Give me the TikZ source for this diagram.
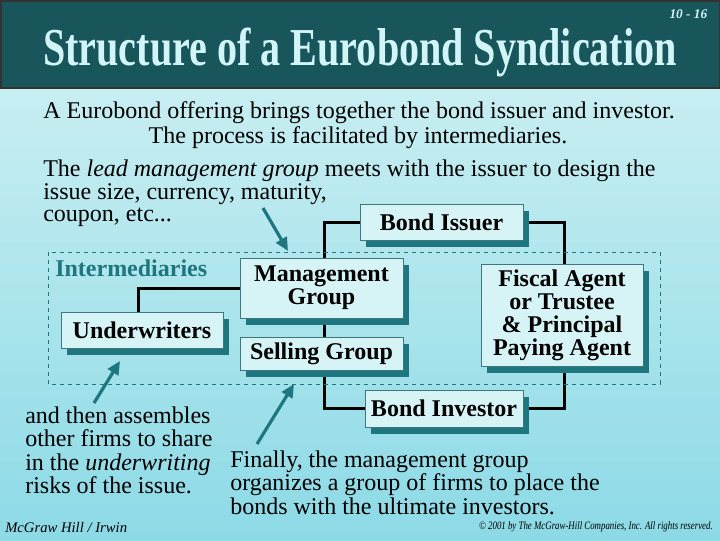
\documentclass[tikz,border=0pt]{standalone}
\usepackage{fontspec}
\setmainfont{Liberation Serif}
\usetikzlibrary{arrows.meta,shadows}
\pgfdeclarelayer{back}
\pgfdeclarelayer{lines}
\pgfsetlayers{back,lines,main}
\definecolor{barcol}{RGB}{24,86,92}
\definecolor{titlecol}{RGB}{210,246,248}
\definecolor{bgtop}{RGB}{200,238,242}
\definecolor{bgbot}{RGB}{140,218,230}
\definecolor{boxfill}{RGB}{214,243,246}
\definecolor{boxline}{RGB}{60,120,125}
\definecolor{shadowcol}{RGB}{30,118,126}
\definecolor{tealtext}{RGB}{30,118,126}
\tikzset{
  box/.style={draw=boxline, line width=0.6pt, fill=boxfill, inner sep=0pt, align=center,
    font=\fontsize{18}{17.3}\selectfont\bfseries,
    drop shadow={shadow xshift=4.5pt, shadow yshift=-5.25pt, fill=shadowcol, opacity=1}},
  link/.style={line width=2.25pt, black},
  pointer/.style={line width=2.4pt, shadowcol, -{Triangle[length=10pt,width=9pt]}},
  body/.style={inner sep=0pt, font=\fontsize{18}{17.3}\selectfont, anchor=west}
}
\begin{document}
\begin{tikzpicture}[x=0.75pt,y=-0.75pt]
\useasboundingbox (0,0) rectangle (720,540);
\begin{pgfonlayer}{back}
\shade[top color=bgtop, bottom color=bgbot] (0,88) rectangle (720,540);
\fill[barcol] (0,0) rectangle (720,88);
\draw[black!80, line width=1.5pt] (0.5,0.5) rectangle (719.5,88);
\end{pgfonlayer}
\node[font=\fontsize{10}{10}\selectfont\bfseries\itshape, text=titlecol, anchor=east] (pg) at (712,14) {10 - 16};
\node[font=\fontsize{32}{32}\selectfont\bfseries, text=titlecol, inner sep=0pt] (title) at (360,52) {\scalebox{0.94}[1.25]{Structure of a Eurobond Syndication}};

\node[body] (l1) at (43,113) {A Eurobond offering brings together the bond issuer and investor.};
\node[body, anchor=center] (l2) at (358,138) {The process is facilitated by intermediaries.};
\node[body] (l3) at (43,171) {The \textit{lead management group} meets with the issuer to design the};
\node[body] (l4) at (43,194) {issue size, currency, maturity,};
\node[body] (l5) at (43,217) {coupon, etc...};

\draw[shadowcol, dashed, line width=0.6pt] (48,252) rectangle (660,384);
\node[font=\fontsize{18}{18}\selectfont\bfseries, text=tealtext, anchor=west, inner sep=0pt] (im) at (55,268) {Intermediaries};

\node[box, minimum width=122.25pt, minimum height=27pt] (BI) at (441.5,222) {Bond Issuer};
\node[box, minimum width=122.25pt, minimum height=45pt] (MG) at (321.5,288) {Management\\Group};
\node[box, minimum width=122.25pt, minimum height=24.75pt] (SG) at (321.5,353.5) {Selling Group};
\node[box, minimum width=121.5pt, minimum height=27pt] (UW) at (142,330) {Underwriters};
\node[box, minimum width=121.5pt, minimum height=76.5pt] (FA) at (562,315) {Fiscal Agent\\or Trustee\\\&{} Principal\\Paying Agent};
\node[box, minimum width=118.5pt, minimum height=27.75pt] (BV) at (444,408.5) {Bond Investor};

\begin{pgfonlayer}{lines}
\draw[link] (BI.west) -| ([xshift=2pt]MG.north);
\draw[link] (BI.east) -| ([xshift=2pt]FA.north);
\draw[link] (MG.west) -| ([xshift=-3pt]UW.north);
\draw[link] ([xshift=2pt]MG.south) -- ([xshift=2pt]SG.north);
\draw[link] ([xshift=2pt]SG.south) |- (BV.west);
\draw[link] ([xshift=2pt]FA.south) |- (BV.east);
\end{pgfonlayer}

\coordinate (a1) at (263,208);
\coordinate (a2) at (94,403);
\coordinate (a3) at (257,444);
\draw[pointer] (a1) -- (288,251);
\draw[pointer] (a2) -- (120,361);
\draw[pointer] (a3) -- (294,384);

\node[body, align=left, anchor=north west] (lt) at (25,407) {and then assembles\\other firms to share\\in the \textit{underwriting}\\risks of the issue.};
\node[body, align=left, anchor=north west] (rt) at (230,451) {Finally, the management group\\organizes a group of firms to place the\\bonds with the ultimate investors.};

\node[font=\fontsize{11}{11}\selectfont\itshape, anchor=west, inner sep=0pt] (f1) at (5,527) {McGraw Hill / Irwin};
\node[font=\fontsize{8.5}{8.5}\selectfont\itshape, anchor=east, inner sep=0pt] (f2) at (713,527) {\scalebox{0.78}[1]{\textcopyright{} 2001 by The McGraw-Hill Companies, Inc. All rights reserved.}};
\end{tikzpicture}
\end{document}
